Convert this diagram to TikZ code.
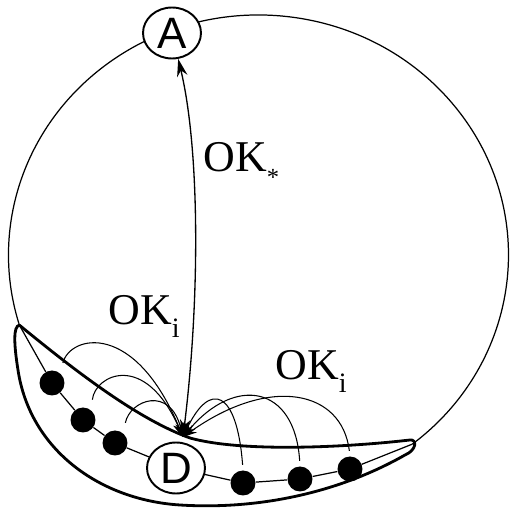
\documentclass[tikz,border=0pt]{standalone}
\usepackage{fontspec}
\setmainfont{Liberation Serif}
\newfontfamily\stationfont{Liberation Sans}
\usetikzlibrary{arrows.meta,shapes.geometric}

\newcommand{\oklab}[2]{OK\raisebox{#2}{\fontsize{16}{16}\selectfont #1}}

\begin{document}
\begin{tikzpicture}[x=0.02cm,y=-0.02cm,
  station/.style={draw,ellipse,fill=white,line width=1.1pt,inner sep=0pt,
                  minimum width=1.16cm,minimum height=1.02cm,
                  font=\stationfont\fontsize{25}{25}\selectfont},
  bead/.style={circle,fill=black,inner sep=0pt,minimum size=0.5cm},
  oklabel/.style={anchor=base west,inner sep=0pt,
                  font=\fontsize{25}{28}\selectfont},
  ring/.style={line width=0.7pt},
  banana/.style={line width=1.6pt},
  okarr/.style={line width=0.6pt,-{Stealth[length=8pt,width=5pt]}},
  maxarr/.style={line width=0.75pt,{Stealth[length=10pt,width=6pt]}-{Stealth[length=10pt,width=6pt]}}
]
\useasboundingbox (0,0) rectangle (512,510);
\draw[ring] (412.4,444.1) coordinate (cr)
  arc[start angle=52,end angle=-197,x radius=250,y radius=240] coordinate (cl);
\draw[banana] (cl) .. controls (80,375) and (140,420) .. (190,438)
  .. controls (240,452) and (340,448) .. (410,440)
  .. controls (417,439) and (417,450) .. (405,455)
  .. controls (340,492) and (260,510) .. (180,505)
  .. controls (100,500) and (30,450) .. (18,370)
  .. controls (14,345) and (13,326) .. (cl);
\node[station] (A) at (172,33) {A};
\node[station] (D) at (176,468) {D};
\node[bead] (l1) at (52,383) {};
\node[bead] (l2) at (83,420) {};
\node[bead] (l3) at (115,443) {};
\node[bead] (r1) at (243,483) {};
\node[bead] (r2) at (300,479) {};
\node[bead] (r3) at (350,469) {};
\coordinate (hub) at (183,437);
\draw[ring] (cl) -- (l1) -- (l2) -- (l3) -- (D) -- (r1) -- (r2) -- (r3) -- (cr);
\draw[maxarr] (A) .. controls (200,150) and (200,300) .. (hub);
\draw[okarr,shorten <=6pt] (l1.50) .. controls (70,335) and (135,320) .. (hub);
\draw[okarr,shorten <=6pt] (l2.50) .. controls (95,375) and (145,350) .. (hub);
\draw[okarr,shorten <=6pt] (l3.50) .. controls (130,400) and (170,385) .. (hub);
\draw[okarr,shorten <=3pt] (r1.north) .. controls (237,390) and (210,380) .. (hub);
\draw[okarr,shorten <=3pt] (r2.north) .. controls (295,385) and (235,375) .. (hub);
\draw[okarr,shorten <=3pt] (r3.north) .. controls (342,390) and (270,375) .. (hub);
\node[oklabel] (okstar) at (203,172) {OK\raisebox{-7.5pt}{\fontsize{14}{14}\selectfont *}};
\node[oklabel] (okleft) at (108,325) {\oklab{i}{-7.4pt}};
\node[oklabel] (okright) at (275,380) {\oklab{i}{-7.4pt}};
\end{tikzpicture}
\end{document}
